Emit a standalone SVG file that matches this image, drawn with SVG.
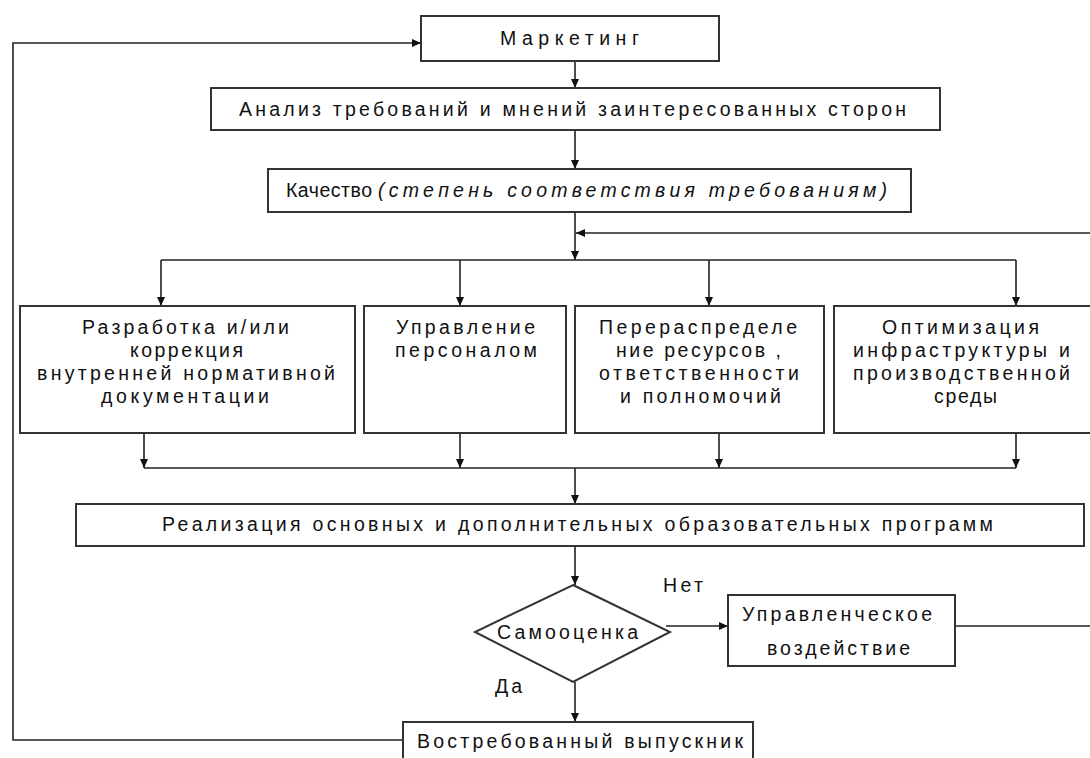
<svg xmlns="http://www.w3.org/2000/svg" width="1090" height="758" viewBox="0 0 1090 758">
<style>
.box{fill:#fff;stroke:#333;stroke-width:2}
.ln{fill:none;stroke:#222;stroke-width:1.6}
.arr{marker-end:url(#ah)}
text{font-family:"Liberation Sans",Arial,sans-serif;font-size:19.5px;fill:#111}
.it{font-style:italic}
</style>
<defs>
<marker id="ah" markerUnits="userSpaceOnUse" markerWidth="9" markerHeight="8" refX="9" refY="4" orient="auto">
<path d="M0,0 L9,4 L0,8 z" fill="#111"/>
</marker>
</defs>
<rect width="1090" height="758" fill="#fff"/>
<g id="connectors">
<path class="ln arr" d="M575,61 V88"/>
<path class="ln arr" d="M575,130 V169"/>
<path class="ln arr" d="M575,212 V260"/>
<path class="ln arr" d="M1092,233 H576"/>
<path class="ln" d="M161,260 H1016"/>
<path class="ln arr" d="M161,260 V306"/>
<path class="ln arr" d="M460,260 V306"/>
<path class="ln arr" d="M709,260 V306"/>
<path class="ln arr" d="M1016,260 V306"/>
<path class="ln arr" d="M144,433 V468"/>
<path class="ln arr" d="M460,433 V468"/>
<path class="ln arr" d="M719,433 V468"/>
<path class="ln arr" d="M1016,433 V468"/>
<path class="ln" d="M144,468 H1016"/>
<path class="ln arr" d="M575,468 V504"/>
<path class="ln arr" d="M575,546 V585"/>
<path class="ln arr" d="M575,682 V722"/>
<path class="ln arr" d="M666,626 H728"/>
<path class="ln" d="M955,626 H1092"/>
<path class="ln arr" d="M403,740 H13 V43 H421"/>
</g>
<g id="marketing">
<rect class="box" x="421" y="16" width="298" height="45"/>
<text x="500" y="45" textLength="139" lengthAdjust="spacing">Маркетинг</text>
</g>
<g id="analysis">
<rect class="box" x="211" y="88" width="729" height="42"/>
<text x="239" y="116" textLength="667" lengthAdjust="spacing">Анализ требований и мнений заинтересованных сторон</text>
</g>
<g id="quality">
<rect class="box" x="268" y="169" width="643" height="43"/>
<text x="286" y="197" textLength="86" lengthAdjust="spacing">Качество</text>
<text class="it" x="378" y="197" textLength="509" lengthAdjust="spacing">(степень соответствия требованиям)</text>
</g>
<g id="box-docs">
<rect class="box" x="20" y="306" width="335" height="127"/>
<text x="82" y="334" textLength="207" lengthAdjust="spacing">Разработка и/или</text>
<text x="130" y="357" textLength="113" lengthAdjust="spacing">коррекция</text>
<text x="37" y="380" textLength="298" lengthAdjust="spacing">внутренней нормативной</text>
<text x="101" y="403" textLength="168" lengthAdjust="spacing">документации</text>
</g>
<g id="box-staff">
<rect class="box" x="364" y="306" width="202" height="127"/>
<text x="396" y="334" textLength="139" lengthAdjust="spacing">Управление</text>
<text x="395" y="357" textLength="142" lengthAdjust="spacing">персоналом</text>
</g>
<g id="box-resources">
<rect class="box" x="575" y="306" width="249" height="127"/>
<text x="599" y="334" textLength="198" lengthAdjust="spacing">Перераспределе</text>
<text x="616" y="357" textLength="165" lengthAdjust="spacing">ние ресурсов ,</text>
<text x="599" y="380" textLength="200" lengthAdjust="spacing">ответственности</text>
<text x="620" y="403" textLength="161" lengthAdjust="spacing">и полномочий</text>
</g>
<g id="box-infra">
<rect class="box" x="834" y="306" width="270" height="127"/>
<text x="882" y="334" textLength="157" lengthAdjust="spacing">Оптимизация</text>
<text x="853" y="357" textLength="217" lengthAdjust="spacing">инфраструктуры и</text>
<text x="853" y="380" textLength="217" lengthAdjust="spacing">производственной</text>
<text x="934" y="403" textLength="63" lengthAdjust="spacing">среды</text>
</g>
<g id="realization">
<rect class="box" x="76" y="504" width="1008" height="42"/>
<text x="162" y="531" textLength="831" lengthAdjust="spacing">Реализация основных и дополнительных образовательных программ</text>
</g>
<g id="self-assessment">
<path class="box" d="M573,585 L670,632 L573,682 L475,632 Z"/>
<text x="497" y="639" textLength="141" lengthAdjust="spacing">Самооценка</text>
</g>
<text id="label-no" x="663" y="592" textLength="40" lengthAdjust="spacing">Нет</text>
<text id="label-yes" x="495" y="693" textLength="27" lengthAdjust="spacing">Да</text>
<g id="management">
<rect class="box" x="728" y="595" width="227" height="71"/>
<text x="742" y="621" textLength="190" lengthAdjust="spacing">Управленческое</text>
<text x="767" y="655" textLength="143" lengthAdjust="spacing">воздействие</text>
</g>
<g id="graduate">
<rect class="box" x="403" y="722" width="350" height="45"/>
<text x="417" y="748" textLength="326" lengthAdjust="spacing">Востребованный выпускник</text>
</g>
</svg>
